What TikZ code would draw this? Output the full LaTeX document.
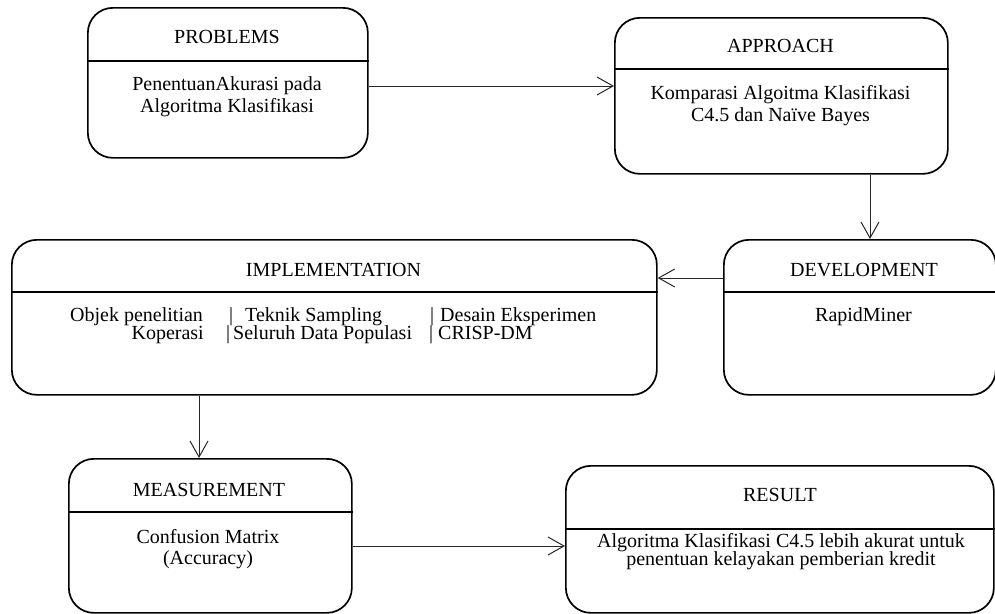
\documentclass[tikz,border=0pt]{standalone}
\usepackage{fontspec}
\setmainfont{Liberation Serif}
\usetikzlibrary{arrows.meta}
\tikzset{
  box/.style={draw=black, line width=1.7pt, rounded corners=25pt, rectangle, inner sep=0pt, anchor=north west},
  divline/.style={draw=black, line width=1.7pt},
  conn/.style={draw=black!85, line width=1pt, -{Straight Barb[length=16pt,width=18pt,line width=1pt]}},
  txt/.style={inner sep=0pt, anchor=base, font=\fontsize{20}{24}\selectfont},
  txtw/.style={txt, anchor=base west},
  txte/.style={txt, anchor=base east},
}
\begin{document}
\begin{tikzpicture}[x=1pt,y=-1pt]
\useasboundingbox (0,0) rectangle (995,613);
\clip (0,0) rectangle (995,613);

% helper coordinates for levels
\coordinate (y61) at (0,61);
\coordinate (y69) at (0,69);
\coordinate (y86) at (0,86);
\coordinate (y292) at (0,292);
\coordinate (y278) at (0,278);
\coordinate (y512) at (0,512);
\coordinate (y529) at (0,529);
\coordinate (y546) at (0,546);
\coordinate (x870) at (870,0);
\coordinate (x199) at (199,0);

% boxes
\node[box, minimum width=280pt, minimum height=150pt] (prob) at (87,7) {};
\node[box, minimum width=333pt, minimum height=156pt] (appr) at (614,17) {};
\node[box, minimum width=645pt, minimum height=155pt] (impl) at (11,239) {};
\node[box, minimum width=272pt, minimum height=155pt] (dev) at (723,239) {};
\node[box, minimum width=283pt, minimum height=154pt] (meas) at (68,458) {};
\node[box, minimum width=428pt, minimum height=147pt] (res) at (565,465) {};

% dividers
\draw[divline] (prob.west |- y61) -- (prob.east |- y61);
\draw[divline] (appr.west |- y69) -- (appr.east |- y69);
\draw[divline] (impl.west |- y292) -- (impl.east |- y292);
\draw[divline] (dev.west |- y292) -- (dev.east |- y292);
\draw[divline] (meas.west |- y512) -- (meas.east |- y512);
\draw[divline] (res.west |- y529) -- (res.east |- y529);

% texts
\node[txt] (probT) at (227,43.6) {PROBLEMS};
\node[txt] (probA) at (227,90) {PenentuanAkurasi pada};
\node[txt] (probB) at (227,112.5) {Algoritma Klasifikasi};

\node[txt] (apprT) at (780.5,52.3) {APPROACH};
\node[txt] (apprA) at (780.5,99.3) {Komparasi Algoitma Klasifikasi};
\node[txt] (apprB) at (780.5,121.7) {C4.5 dan Naïve Bayes};

\node[txt] (devT) at (864,276) {DEVELOPMENT};
\node[txt] (devA) at (863.5,321.7) {RapidMiner};

\node[txt] (implT) at (333.5,276) {IMPLEMENTATION};
\node[txtw] (i1a) at (70,321) {Objek penelitian};
\node[txt] (i1b) at (231,321) {|};
\node[txtw] (i1c) at (245,321) {Teknik Sampling};
\node[txt] (i1d) at (432,321) {|};
\node[txtw] (i1e) at (440,321) {Desain Eksperimen};
\node[txte] (i2a) at (204,339) {Koperasi};
\node[txt] (i2b) at (228,339) {|};
\node[txtw] (i2c) at (233,339) {Seluruh Data Populasi};
\node[txt] (i2d) at (431,339) {|};
\node[txtw] (i2e) at (438,339) {CRISP-DM};

\node[txt] (measT) at (209,496) {MEASUREMENT};
\node[txt] (measA) at (208,543.3) {Confusion Matrix};
\node[txt] (measB) at (208,564) {(Accuracy)};

\node[txt] (resT) at (780,501.7) {RESULT};
\node[txt] (resA) at (781,547) {Algoritma Klasifikasi C4.5 lebih akurat untuk};
\node[txt] (resB) at (781,565) {penentuan kelayakan pemberian kredit};

% connectors
\draw[conn] (prob.east |- y86) -- (appr.west |- y86);
\draw[conn] (appr.south -| x870) -- (dev.north -| x870);
\draw[conn] (dev.west |- y278) -- (impl.east |- y278);
\draw[conn] (impl.south -| x199) -- (meas.north -| x199);
\draw[conn] (meas.east |- y546) -- (res.west |- y546);
\end{tikzpicture}
\end{document}
